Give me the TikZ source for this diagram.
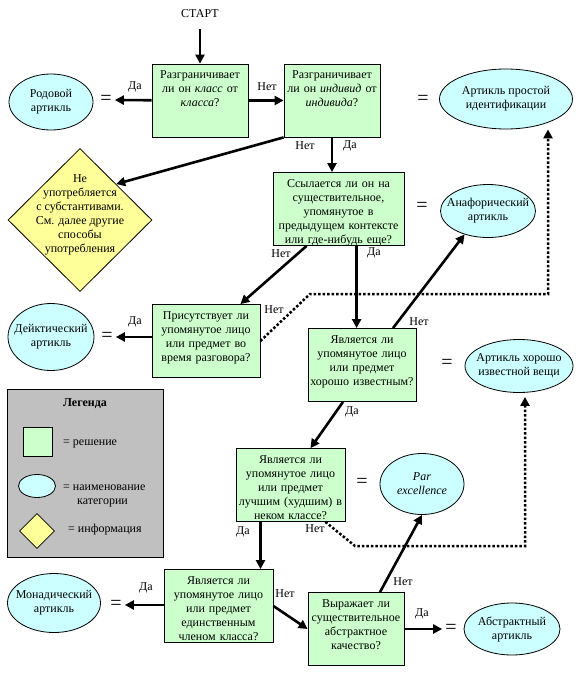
\documentclass[tikz,border=0pt]{standalone}
\usepackage{fontspec}
\setmainfont{Liberation Serif}
\usetikzlibrary{arrows.meta}
\usetikzlibrary{shapes.geometric}
\definecolor{decgreen}{RGB}{204,255,204}
\definecolor{catcyan}{RGB}{204,255,255}
\definecolor{infoyellow}{RGB}{255,255,153}
\definecolor{legendgray}{RGB}{192,192,192}

\begin{document}
\begin{tikzpicture}
[x=1pt,y=-1pt,%
  decision/.style={rectangle,draw,fill=decgreen,line width=0.8pt,text width=#1,align=center,%
    inner xsep=2pt,inner ysep=3pt,text height=11.5pt,text depth=55.5pt},%
  category/.style={ellipse,draw,fill=catcyan,line width=0.8pt,inner sep=0pt},%
  info/.style={diamond,draw,fill=infoyellow,line width=0.8pt,inner sep=0pt},%
  inside/.style={align=center,inner sep=0pt},%
  equals/.style={inner sep=3pt,font=\fontsize{20pt}{20pt}\selectfont},%
  answer/.style={inner sep=1pt},%
  arr/.style={-{Triangle[length=9pt,width=9pt]},line width=2.6pt},%
  dotarr/.style={-{Triangle[length=9pt,width=9pt]},line width=2.5pt,dash pattern=on 2.5pt off 2pt}]
\fontsize{12pt}{14pt}\selectfont
\useasboundingbox (0,0) rectangle (580,680);
\node (start) at (200,14) {СТАРТ};
\node[decision=92pt] (q1) at (200,100.5) {Разграничивает\\ли он \textit{класс} от\\\textit{класса}?};
\node[decision=92pt] (q2) at (332,100.5) {Разграничивает\\ли он \textit{индивид} от\\\textit{индивида}?};
\node[decision=127pt] (q3) at (338.5,209) {Ссылается ли он на\\существительное,\\упомянутое в\\предыдущем контексте\\или где-нибудь еще?};
\node[decision=104pt] (q4) at (206,341) {Присутствует ли\\упомянутое лицо\\или предмет во\\время разговора?};
\node[decision=104pt] (q5) at (362,365) {Является ли\\упомянутое лицо\\или предмет\\хорошо известным?};
\node[decision=105pt] (q6) at (290.5,485) {Является ли\\упомянутое лицо\\или предмет\\лучшим (худшим) в\\неком классе?};
\node[decision=105pt] (q7) at (218.5,606) {Является ли\\упомянутое лицо\\или предмет\\единственным\\членом класса?};
\node[decision=92pt] (q8) at (356,629) {Выражает ли\\существительное\\абстрактное\\качество?};

\node[equals] (eq1) at (106,100) {=};
\node[equals] (eq2) at (423,100) {=};
\node[equals] (eq3) at (422,207) {=};
\node[equals] (eq4) at (107,337) {=};
\node[equals] (eq5) at (447,364) {=};
\node[equals] (eq6) at (362,483) {=};
\node[equals] (eq7) at (116,605) {=};
\node[equals] (eq8) at (451,629) {=};

\node[category,minimum width=84pt,minimum height=56pt,label={[inside]center:{Родовой\\артикль}}] (generic) at (51,102) {};
\node[category,minimum width=133pt,minimum height=60pt,label={[inside]center:{Артикль простой\\идентификации}}] (simple) at (506,99) {};
\node[category,minimum width=95pt,minimum height=53pt,label={[inside]center:{Анафорический\\артикль}}] (ana) at (488,211) {};
\node[category,minimum width=86pt,minimum height=67pt,label={[inside]center:{Дейктический\\артикль}}] (deict) at (51,337) {};
\node[category,minimum width=108pt,minimum height=53pt,label={[inside]center:{Артикль хорошо\\известной вещи}}] (wellknown) at (519,366) {};
\node[category,minimum width=84pt,minimum height=61pt,label={[inside]center:{\textit{Par}\\\textit{excellence}}}] (parexc) at (422,484) {};
\node[category,minimum width=93pt,minimum height=59pt,label={[inside]center:{Монадический\\артикль}}] (monad) at (54,603) {};
\node[category,minimum width=96pt,minimum height=52pt,label={[inside]center:{Абстрактный\\артикль}}] (abstr) at (512,629) {};
\node[info,minimum width=144pt,minimum height=143pt,label={[inside,yshift=5pt]center:{Не\\употребляется\\с субстантивами.\\См. далее другие\\способы\\употребления}}] (noun) at (80,220) {};

\node[draw,fill=legendgray,line width=0.8pt,minimum width=156pt,minimum height=168pt,inner sep=0pt] (legend) at (85,473) {};
\node[font=\bfseries] (legtitle) at (85,404) {Легенда};
\node[draw,fill=decgreen,line width=0.8pt,minimum size=29pt,inner sep=0pt] (legdec) at (37.5,442) {};
\node[category,minimum width=37pt,minimum height=23pt] (legcat) at (37,486) {};
\node[info,minimum width=35pt,minimum height=35pt] (leginfo) at (37,531) {};
\node[anchor=west,inner sep=0pt] (legdectext) at (63,444) {= решение};
\node[anchor=west,inner sep=0pt] (legcattext) at (63,488) {= наименование};
\node[anchor=west,inner sep=0pt] (legcattext2) at (77,503) {категории};
\node[anchor=west,inner sep=0pt] (leginfotext) at (68,530) {= информация};

\coordinate (c3) at ([xshift=84pt]q3.south west);
\coordinate (c6) at ([xshift=-30pt]q6.south);
\draw[arr,shorten <=7pt] (start) -- (q1);
\draw[arr] (q1) -- (eq1);
\draw[arr] (q1) -- (q2);
\draw[arr] (q2.south west) -- (noun.north east);
\draw[arr] (q2.south) -- (q2.south |- q3.north);
\draw[arr] ([xshift=34pt]q3.south west) -- ([xshift=-20pt]q4.north east);
\draw[arr] (c3) -- (c3 |- q5.north);
\draw[arr] (q4.west |- eq4) -- (eq4);
\draw[dotarr] (q4.east) -- (310,294) -| (548,0 |- simple.south);
\draw[arr] ([xshift=31pt]q5.north) -- (ana.225);
\draw[arr] ([xshift=-19pt]q5.south) -- ([xshift=20pt]q6.north);
\draw[arr] (c6) -- (c6 |- q7.north);
\draw[dotarr,shorten >=4pt] ([xshift=-20pt]q6.south east) -- (355,546) -| (525,0 |- wellknown.south);
\draw[arr] (q7.west |- eq7) -- (eq7);
\draw[arr] (q7.east) -- (q8.west);
\draw[arr] ([xshift=24pt]q8.north) -- (parexc.south);
\draw[arr] (q8) -- (eq8);

\node[answer] (a1) at (135,87) {Да};
\node[answer] (a2) at (267,87) {Нет};
\node[answer] (a3) at (305,146) {Нет};
\node[answer] (a4) at (350,146) {Да};
\node[answer] (a5) at (281,254) {Нет};
\node[answer] (a6) at (374,253) {Да};
\node[answer] (a7) at (135,322) {Да};
\node[answer] (a8) at (274,310) {Нет};
\node[answer] (a9) at (419,322) {Нет};
\node[answer] (a10) at (352,412) {Да};
\node[answer] (a11) at (243,532) {Да};
\node[answer] (a12) at (315,529) {Нет};
\node[answer] (a13) at (146,588) {Да};
\node[answer] (a14) at (285,594) {Нет};
\node[answer] (a15) at (403,582) {Нет};
\node[answer] (a16) at (422,614) {Да};
\end{tikzpicture}
\end{document}
